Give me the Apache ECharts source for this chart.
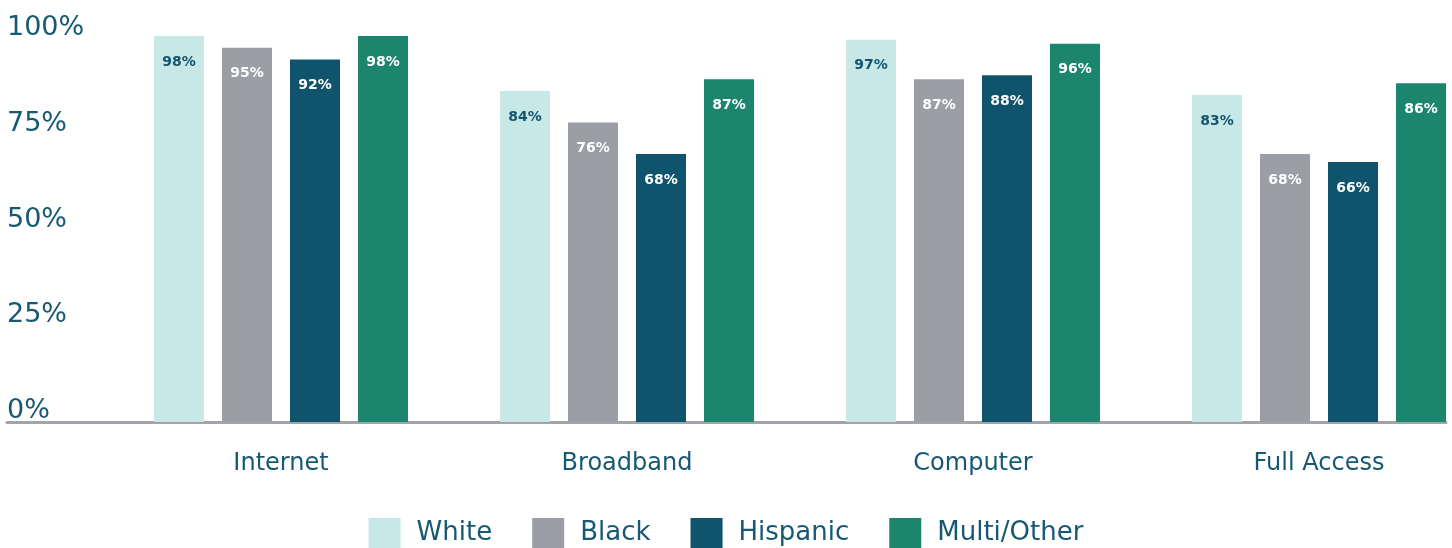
<!DOCTYPE html>
<html>
<head>
<meta charset="utf-8">
<script src="https://cdn.jsdelivr.net/npm/echarts@6/dist/echarts.min.js"></script>
<style>
  html, body { margin: 0; padding: 0; background: #fff; }
  #chart { width: 1452px; height: 548px; }
</style>
</head>
<body>
<div id="chart"></div>
<script>
// categories and values
const categories = ['Internet', 'Broadband', 'Computer', 'Full Access']
const white = [98, 84, 97, 83]
const black = [95, 76, 87, 68]
const hispanic = [92, 68, 88, 66]
const multiOther = [98, 87, 96, 86]
const yTicks = ['0%', '25%', '50%', '75%', '100%']

const textColor = '#175873'
const font = 'DejaVu Sans'

const myChart = echarts.init(document.getElementById('chart'))

const makeSeries = (name, data, color, labelColor) => ({
    name: name,
    type: 'bar',
    xAxisIndex: 0,
    yAxisIndex: 0,
    data: data,
    barWidth: 50,
    barGap: '36%',
    itemStyle: { color: color },
    label: {
        show: true,
        position: 'insideTop',
        distance: 19,
        formatter: '{c}%',
        color: labelColor,
        fontFamily: font,
        fontWeight: 'bold',
        fontSize: 14
    }
})

const options = {
    animation: false,
    textStyle: { fontFamily: font },
    legend: {
        left: 'center',
        top: 513,
        icon: 'rect',
        itemWidth: 32,
        itemHeight: 30,
        itemGap: 40,
        textStyle: {
            color: textColor,
            fontSize: 26,
            fontFamily: font,
            padding: [0, 0, 0, 11]
        },
        data: ['White', 'Black', 'Hispanic', 'Multi/Other']
    },
    grid: [
        // bars, the last group runs up to the right edge
        { left: 108, width: 1384, top: 28, bottom: 126, outerBoundsMode: 'none' },
        // axis line and y labels
        { left: 7, right: 6, top: 28, bottom: 137, outerBoundsMode: 'none' }
    ],
    xAxis: [
        {
            type: 'category',
            gridIndex: 0,
            data: categories,
            axisLine: { show: false },
            axisTick: { show: false },
            axisLabel: {
                color: textColor,
                fontSize: 24,
                fontFamily: font,
                margin: 30
            }
        },
        {
            type: 'value',
            gridIndex: 1,
            min: 0,
            max: 1,
            offset: 11,
            axisLine: { show: true, lineStyle: { color: '#a3a4a9', width: 3 } },
            axisTick: { show: false },
            axisLabel: { show: false },
            splitLine: { show: false }
        }
    ],
    yAxis: [
        {
            type: 'value',
            gridIndex: 0,
            min: 0,
            max: 100,
            show: false
        },
        {
            type: 'category',
            gridIndex: 1,
            data: yTicks,
            boundaryGap: false,
            axisLine: { show: false },
            axisTick: { show: false },
            splitLine: { show: false },
            axisLabel: {
                align: 'left',
                margin: 0,
                color: textColor,
                fontSize: 27,
                fontFamily: font
            }
        }
    ],
    series: [
        makeSeries('White', white, '#c8e8e7', '#135470'),
        makeSeries('Black', black, '#9c9ea5', '#ffffff'),
        makeSeries('Hispanic', hispanic, '#10536d', '#ffffff'),
        makeSeries('Multi/Other', multiOther, '#1b866d', '#ffffff')
    ]
}

myChart.setOption(options)
</script>
</body>
</html>
